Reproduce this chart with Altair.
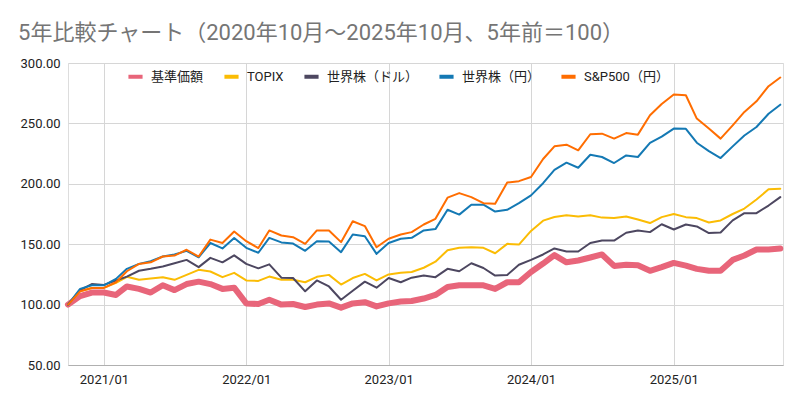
import altair as alt
import pandas as pd

# Monthly dates: 2020/10 .. 2025/10
months = pd.date_range("2020-10-01", periods=61, freq="MS").strftime("%Y-%m-%d").tolist()

series_names = ["基準価額", "TOPIX", "世界株（ドル）", "世界株（円）", "S&P500（円）"]
series_colors = ["#E8657A", "#FBBC04", "#4D4760", "#1479B4", "#FF6D01"]
series_widths = [6, 2, 2, 2, 2]

kijun = [100, 107, 110, 110, 108, 115, 113, 110, 116, 112,
         117, 119, 117, 113, 114, 101, 100.5, 104, 100, 100.5,
         98, 100, 101, 97.5, 101, 102, 98.5, 101, 102.5, 103,
         105, 108, 114.5, 116, 116, 116, 113, 118.5, 118.5, 127,
         134, 141, 135, 136.5, 139, 141.5, 132, 133, 132.5, 128,
         131, 134.5, 132.3, 129.6, 128, 128, 137, 140.6, 145.6, 145.6, 146.5]

topix = [100, 111, 113.8, 113.8, 118, 123, 120.5, 121.6, 122.7, 120.5,
         124.6, 128.8, 127.4, 122.7, 126.3, 120, 119.6, 123.2, 120.5, 120.5,
         118.5, 123, 124.6, 116.6, 122, 125.4, 120, 125, 126.3, 127,
         130.5, 135.5, 145, 147, 147.5, 147, 142.5, 150.3, 149.7, 161,
         169.5, 172.5, 174, 173, 174, 172, 171.6, 173, 170.5, 167.5,
         172.4, 175, 172.4, 171.6, 168, 169.7, 175, 179.5, 187, 195.4, 196]

world_usd = [100, 112, 117, 116.3, 120, 123.2, 128, 129.6, 131.5, 134.2,
             137, 131, 138.7, 135, 140.8, 133.7, 130, 133.3, 122.3, 122,
             111, 120, 115, 104, 111.5, 119, 114, 122, 118.5, 122.3,
             124, 122.7, 129.6, 127.6, 134.2, 130.3, 124, 124.6, 133, 137,
             141.5, 146.5, 144, 144, 151, 153, 153, 159.5, 161.4, 160,
             166.5, 162.2, 166.3, 164.7, 159.2, 159.7, 169.7, 175.7, 175.7, 182, 189]

world_jpy = [100, 113, 116, 116, 121.3, 129.6, 133.7, 136, 139.8, 141.5,
             144.5, 139.2, 151, 146.5, 155.2, 147, 142.9, 155.2, 151.5, 150.5,
             144.5, 152.5, 152.2, 143.4, 158, 156.6, 142, 151, 154.5, 155.3,
             161.4, 162.5, 178.5, 174.5, 182.7, 182.7, 177, 178.5, 184, 190.4,
             200.5, 211.5, 217.5, 213.3, 224, 222.2, 217.2, 223.5, 222.2, 233.8,
             239, 245.7, 245.5, 234, 227, 221.3, 231, 240, 247, 258, 265.5]

sp500_jpy = [100, 111, 113.8, 113.8, 118.5, 127.6, 133.7, 135, 139.8, 140.6,
             145.4, 139.8, 153.8, 151, 160.5, 152.5, 146.8, 161.4, 157.2, 155.8,
             150.3, 161.4, 161.4, 151.7, 169, 165, 147.5, 154.5, 158, 160,
             166.3, 171, 188.5, 192.3, 189, 184, 183.5, 201, 202.2, 205.6,
             220.5, 231, 232.4, 227.7, 241, 241.5, 237.4, 242, 240.7, 256.7,
             266, 274, 273.3, 254, 245.7, 237.4, 248.4, 259.5, 268.3, 280.8, 288]

y_ticks = [50, 100, 150, 200, 250, 300]
x_tick_years = [2021, 2022, 2023, 2024, 2025]

title_text = "5年比較チャート（2020年10月～2025年10月、5年前＝100）"

all_values = [kijun, topix, world_usd, world_jpy, sp500_jpy]
rows = []
for name, vals in zip(series_names, all_values):
    for d, v in zip(months, vals):
        rows.append({"date": d, "value": v, "series": name})
df = pd.DataFrame(rows)

FONT = "Roboto, Noto Sans CJK JP, sans-serif"

x_enc = alt.X(
    "date:T",
    scale=alt.Scale(domain=[alt.DateTime(year=2020, month=10, date=1),
                            alt.DateTime(year=2025, month=10, date=8)]),
    axis=alt.Axis(
        values=[alt.DateTime(year=y, month=1, date=1) for y in x_tick_years],
        format="%Y/%m", title=None, grid=True, gridColor="#d6d6d6",
        domainColor="#b0b0b0", ticks=False, labelPadding=8,
        labelFontSize=13, labelColor="#222222", labelFont=FONT,
    ),
)
y_enc = alt.Y(
    "value:Q",
    scale=alt.Scale(domain=[50, 300], nice=False, zero=False),
    axis=alt.Axis(
        values=y_ticks, format=".2f", title=None, grid=True, gridColor="#d6d6d6",
        domain=False, ticks=False, labelPadding=8,
        labelFontSize=13, labelColor="#222222", labelFont=FONT,
    ),
)
color_enc = alt.Color(
    "series:N",
    scale=alt.Scale(domain=series_names, range=series_colors),
    legend=alt.Legend(
        title=None, orient="none", legendX=58, legendY=4, direction="horizontal",
        symbolType="stroke", symbolStrokeWidth=4, symbolSize=200,
        labelFontSize=13, labelColor="#222222", labelFont=FONT,
        columnPadding=12, labelOffset=6,
    ),
)

base = alt.Chart(df).encode(x=x_enc, y=y_enc, color=color_enc)

layers = []
for name, w in zip(series_names, series_widths):
    layers.append(
        base.transform_filter(alt.datum.series == name)
        .mark_line(strokeWidth=w, strokeJoin="round", strokeCap="round")
    )

chart = alt.layer(*layers).properties(
    width=715, height=302,
    padding={"left": 60, "top": 55, "right": 5, "bottom": 30},
    autosize=alt.AutoSizeParams(type="none"),
    title=alt.TitleParams(
        text=title_text, anchor="start", frame="bounds", dx=-2, offset=12,
        fontSize=22, color="#757575", font=FONT, fontWeight="normal",
    ),
).configure_view(stroke=None).configure(background="white")

chart.save("out.html", embed_options={"renderer": "svg", "actions": False})
